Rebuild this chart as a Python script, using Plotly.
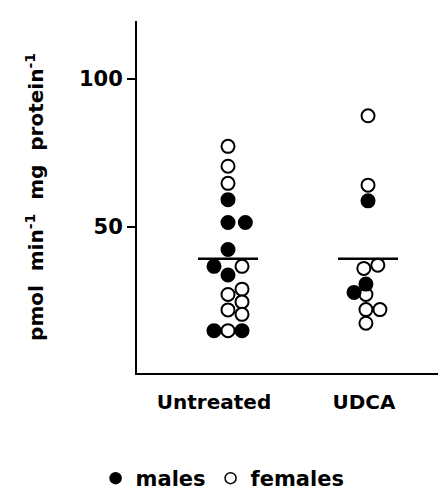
import plotly.graph_objects as go

# ---- data ----
groups = ["Untreated", "UDCA"]
group_pos = [1, 2]

untreated_values = [77.2, 70.5, 64.7, 59.2, 51.5, 51.5, 42.4, 36.7, 36.7, 33.8,
                    29.0, 27.2, 24.7, 22.0, 20.5, 15.0, 15.0, 15.0]
untreated_sex = ["F", "F", "F", "M", "M", "M", "M", "M", "F", "M",
                 "F", "F", "F", "F", "F", "M", "F", "M"]
untreated_jitter = [0, 0, 0, 0, 0, 0.124, 0, -0.1, 0.1, 0,
                    0.1, 0, 0.1, 0, 0.1, -0.1, 0, 0.1]

udca_values = [87.5, 64.1, 58.8, 37.1, 36.0, 30.7, 27.9, 27.2, 22.1, 22.1, 17.5]
udca_sex = ["F", "F", "M", "F", "F", "M", "M", "F", "F", "F", "F"]
udca_jitter = [0, 0, 0, 0.07, -0.03, -0.015, -0.1, -0.015, -0.015, 0.085, -0.015]

group_means = [39.3, 39.3]

y_tick_vals = [50, 100]
y_title = "pmol  min<sup>-1</sup>  mg  protein<sup>-1</sup>"
legend_names = {"M": "males", "F": "females"}

# ---- build ----
FONT = "DejaVu Sans"
fig = go.Figure()

all_groups = [
    (group_pos[0], untreated_values, untreated_sex, untreated_jitter),
    (group_pos[1], udca_values, udca_sex, udca_jitter),
]

for sex in ["F", "M"]:
    xs, ys = [], []
    for pos, vals, sexes, jit in all_groups:
        for v, s, j in zip(vals, sexes, jit):
            if s == sex:
                xs.append(pos + j)
                ys.append(v)
    fill = "black" if sex == "M" else "white"
    fig.add_trace(go.Scatter(
        x=xs, y=ys, mode="markers", showlegend=False,
        marker=dict(size=13, color=fill, line=dict(color="black", width=2)),
    ))

half_w = 0.214
for pos, m in zip(group_pos, group_means):
    fig.add_trace(go.Scatter(
        x=[pos - half_w, pos + half_w], y=[m, m], mode="lines",
        line=dict(color="black", width=2.5), showlegend=False,
    ))

# legend-only entries
for sex in ["M", "F"]:
    fill = "black" if sex == "M" else "white"
    fig.add_trace(go.Scatter(
        x=[None], y=[None], mode="markers", name=legend_names[sex],
        marker=dict(size=11, color=fill, line=dict(color="black", width=1.5)),
    ))

fig.update_layout(
    width=446, height=491,
    margin=dict(l=129, r=0, t=13, b=119),
    paper_bgcolor="white", plot_bgcolor="white",
    font=dict(family=FONT, color="black", size=20, weight="bold"),
    showlegend=True,
    legend=dict(
        orientation="h", x=0.27, xanchor="center", y=-0.30, yanchor="middle",
        font=dict(family=FONT, size=21, weight="bold"),
        itemwidth=30, tracegroupgap=0, bgcolor="rgba(0,0,0,0)",
    ),
    xaxis=dict(
        range=[0.35, 2.614], showgrid=False, zeroline=False, automargin=False,
        showline=True, linecolor="black", linewidth=2,
        tickmode="array", tickvals=[0.9, 1.971], ticktext=groups,
        ticks="outside", ticklen=10, tickcolor="rgba(0,0,0,0)",
        tickfont=dict(family=FONT, size=20, weight="bold"),
    ),
    yaxis=dict(
        range=[0.7, 119.5], showgrid=False, zeroline=False, automargin=False,
        showline=True, linecolor="black", linewidth=2,
        tickmode="array", tickvals=y_tick_vals,
        ticks="outside", ticklen=8, tickwidth=2, tickcolor="black",
        tickfont=dict(family=FONT, size=21, weight="bold"),
        title=dict(text=y_title, standoff=30,
                   font=dict(family=FONT, size=20, weight="bold")),
    ),
)

fig.write_html("out.html")
